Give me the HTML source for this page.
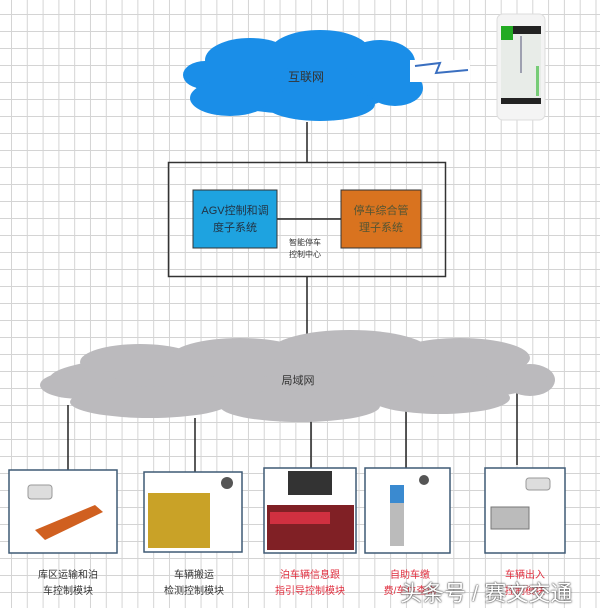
<!DOCTYPE html>
<html><head><meta charset="utf-8"><style>
html,body{margin:0;padding:0}
body{width:600px;height:606px;overflow:hidden;position:relative;font-family:"Liberation Sans","Noto Sans CJK SC",sans-serif;
background-color:#fff;
background-image:linear-gradient(90deg,#d4d4d4 1px,transparent 1px),linear-gradient(#d4d4d4 1px,transparent 1px);
background-size:15.8px 17px;background-position:11px 14px;}
.a{position:absolute}
.lbl{position:absolute;font-size:10px;text-align:center;line-height:16px;width:120px}
</style></head><body>
<svg class="a" style="left:0;top:0" width="600" height="606">
 <!-- blue cloud -->
 <g fill="#1a8ee8">
  <ellipse cx="300" cy="78" rx="108" ry="36"/>
  <ellipse cx="250" cy="60" rx="45" ry="22"/>
  <ellipse cx="320" cy="52" rx="50" ry="22"/>
  <ellipse cx="380" cy="62" rx="35" ry="22"/>
  <ellipse cx="205" cy="75" rx="22" ry="14"/>
  <ellipse cx="230" cy="98" rx="40" ry="18"/>
  <ellipse cx="320" cy="104" rx="55" ry="17"/>
  <ellipse cx="395" cy="88" rx="28" ry="18"/>
 </g>
 <text x="306" y="81" font-size="12" fill="#333" text-anchor="middle">互联网</text>
 <!-- lightning -->
 <rect x="410" y="60" width="60" height="22" fill="#fff"/>
 <path d="M415 66 L440 63 L436 73 L468 70" stroke="#3a6fc0" stroke-width="2" fill="none"/>
 <!-- phone -->
 <rect x="497" y="14" width="48" height="106" rx="6" fill="#f4f4f4" stroke="#ddd"/>
 <rect x="501" y="26" width="40" height="78" fill="#e8ece8"/>
 <rect x="501" y="26" width="40" height="8" fill="#222"/>
 <rect x="501" y="26" width="12" height="14" fill="#2a2"/>
 <rect x="501" y="98" width="40" height="6" fill="#222"/>
 <rect x="536" y="66" width="3" height="30" fill="#7c7"/>
 <line x1="521" y1="36" x2="521" y2="73" stroke="#557" stroke-width="1"/>
 <!-- lines -->
 <g stroke="#222" stroke-width="1.5">
  <line x1="307" y1="122" x2="307" y2="162"/>
  <line x1="307" y1="276" x2="307" y2="334"/>
  <line x1="68" y1="405" x2="68" y2="472"/>
  <line x1="195" y1="418" x2="195" y2="478"/>
  <line x1="311" y1="421" x2="311" y2="470"/>
  <line x1="406" y1="411" x2="406" y2="470"/>
  <line x1="517" y1="392" x2="517" y2="465"/>
  <line x1="277" y1="219" x2="341" y2="219"/>
 </g>
 <rect x="168.5" y="162.5" width="277" height="114" fill="none" stroke="#333" stroke-width="1.5"/>
 <rect x="193" y="190" width="84" height="58" fill="#1ea3e0" stroke="#333"/>
 <rect x="341" y="190" width="80" height="58" fill="#d9731f" stroke="#333"/>
 <text x="235" y="214" font-size="11" fill="#234" text-anchor="middle">AGV控制和调</text>
 <text x="235" y="231" font-size="11" fill="#234" text-anchor="middle">度子系统</text>
 <text x="381" y="214" font-size="11" fill="#553" text-anchor="middle">停车综合管</text>
 <text x="381" y="231" font-size="11" fill="#553" text-anchor="middle">理子系统</text>
 <text x="305" y="245" font-size="8" fill="#333" text-anchor="middle">智能停车</text>
 <text x="305" y="257" font-size="8" fill="#333" text-anchor="middle">控制中心</text>
 <!-- gray cloud -->
 <g fill="#bbbabd">
  <ellipse cx="300" cy="378" rx="250" ry="30"/>
  <ellipse cx="140" cy="362" rx="60" ry="18"/>
  <ellipse cx="240" cy="358" rx="70" ry="20"/>
  <ellipse cx="350" cy="352" rx="80" ry="22"/>
  <ellipse cx="460" cy="358" rx="70" ry="20"/>
  <ellipse cx="80" cy="385" rx="40" ry="14"/>
  <ellipse cx="150" cy="402" rx="80" ry="16"/>
  <ellipse cx="300" cy="406" rx="80" ry="16"/>
  <ellipse cx="440" cy="398" rx="70" ry="16"/>
  <ellipse cx="530" cy="380" rx="25" ry="16"/>
 </g>
 <text x="298" y="384" font-size="11" fill="#333" text-anchor="middle">局域网</text>
 <!-- module boxes -->
 <g fill="#fff" stroke="#3f5a75" stroke-width="1.5">
  <rect x="9" y="470" width="108" height="83"/>
  <rect x="144" y="472" width="98" height="80"/>
  <rect x="264" y="468" width="92" height="85"/>
  <rect x="365" y="468" width="85" height="85"/>
  <rect x="485" y="468" width="80" height="85"/>
 </g>
 <!-- images -->
 <rect x="28" y="485" width="24" height="14" rx="3" fill="#ddd" stroke="#999"/>
 <path d="M35 530 L95 505 L103 512 L45 540 Z" fill="#d06020"/>
 <rect x="148" y="493" width="62" height="55" fill="#c9a227"/>
 <circle cx="227" cy="483" r="6" fill="#555"/>
 <rect x="288" y="471" width="44" height="24" fill="#333"/>
 <rect x="267" y="505" width="87" height="45" fill="#802025"/>
 <rect x="270" y="512" width="60" height="12" fill="#d03040"/>
 <rect x="390" y="485" width="14" height="18" fill="#3a8ad0"/>
 <rect x="390" y="503" width="14" height="43" fill="#bbb"/>
 <circle cx="424" cy="480" r="5" fill="#555"/>
 <rect x="526" y="478" width="24" height="12" rx="3" fill="#ddd" stroke="#999"/>
 <rect x="491" y="507" width="38" height="22" fill="#bbb" stroke="#777"/>
</svg>
<div class="lbl" style="left:8px;top:568px;color:#333">库区运输和泊<br>车控制模块</div>
<div class="lbl" style="left:134px;top:568px;color:#333">车辆搬运<br>检测控制模块</div>
<div class="lbl" style="left:250px;top:568px;color:#e03040">泊车辆信息跟<br>指引导控制模块</div>
<div class="lbl" style="left:350px;top:568px;color:#e03040">自助车缴<br>费/车位查询</div>
<div class="lbl" style="left:465px;top:568px;color:#e03040">车辆出入<br>控制模块</div>
<div class="a" style="left:400px;top:576px;font-size:22px;color:#fff;text-shadow:0 0 2px #333,0 0 1px #333">头条号 / 赛文交通</div>
</body></html>
